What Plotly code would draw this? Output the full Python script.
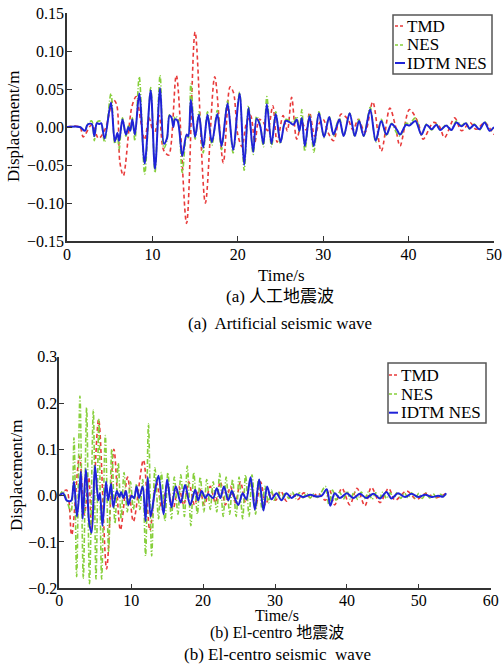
import plotly.graph_objects as go

# ---------------- (a) Artificial seismic wave ----------------
# IDTM NES and NES share extremum times
t_a = [0, 1.5, 2.1, 2.4, 2.9, 3.2, 3.5, 3.8, 4.0, 4.4,
       5.15, 5.6, 5.9, 6.1, 6.5, 6.9, 7.2, 7.4, 7.65, 7.95,
       8.46, 9.1, 9.8, 10.3, 10.9, 11.35, 11.7, 12.0, 12.25, 12.45,
       12.65, 12.95, 13.5, 14.0, 14.2, 14.5, 15.0, 15.45, 15.95, 16.45,
       16.97, 17.6, 18.1, 18.8, 19.45, 20.2, 20.75, 21.25, 21.8, 22.2,
       22.6, 23.0, 23.4, 23.95, 24.45, 25.0, 25.6, 26.1, 26.5, 26.9,
       27.2, 27.5, 27.85, 28.4, 28.9, 29.5, 30.1, 30.7, 31.2, 31.55,
       31.9, 32.4, 33.1, 33.7, 34.2, 34.75, 35.5, 36.15, 36.8, 37.4,
       38.0, 38.6, 39.0, 39.7, 40.1, 40.8, 41.5, 42.1, 42.7, 43.25,
       43.7, 44.4, 45.0, 45.6, 46.2, 46.7, 47.15, 47.7, 48.3, 48.9,
       49.5, 50]
idtm_a = [0, 0, -0.005, 0.003, 0.004, -0.012, 0.005, 0.004, 0.005, -0.015,
          0.032, -0.019, -0.008, -0.018, 0.010, -0.010, 0.000, -0.005, 0.010, -0.010,
          0.044, -0.048, 0.048, -0.055, 0.051, -0.022, -0.015, 0.015, 0.012, 0.000,
          0.010, 0.008, -0.038, -0.010, -0.012, 0.036, -0.013, 0.016, -0.027, 0.016,
          -0.020, 0.017, -0.025, 0.031, -0.030, 0.044, -0.050, 0.025, -0.033, 0.011,
          0.002, -0.022, 0.030, -0.022, 0.017, -0.020, 0.008, 0.006, 0.003, 0.010,
          -0.005, 0.012, -0.025, 0.014, -0.025, 0.018, -0.013, 0.013, -0.010, 0.000,
          0.010, -0.012, 0.018, -0.012, 0.008, -0.012, 0.023, -0.018, 0.008, -0.010,
          0.004, -0.003, -0.010, 0.003, 0.002, 0.008, -0.010, 0.003, -0.003, 0.003,
          -0.004, 0.002, -0.004, 0.006, 0.001, 0.005, -0.002, 0.003, -0.003, 0.006,
          -0.005, 0.000]
nes_a = [0, 0, -0.005, 0.004, 0.008, -0.018, 0.006, 0.008, 0.006, -0.020,
         0.044, -0.022, -0.010, -0.030, 0.012, -0.012, 0.002, -0.006, 0.012, -0.018,
         0.066, -0.062, 0.052, -0.060, 0.068, -0.028, -0.018, 0.016, 0.014, 0.002,
         0.014, 0.012, -0.060, -0.012, -0.014, 0.057, -0.016, 0.020, -0.034, 0.020,
         -0.024, 0.022, -0.030, 0.034, -0.034, 0.046, -0.057, 0.028, -0.036, 0.014,
         0.004, -0.026, 0.040, -0.026, 0.020, -0.022, 0.010, 0.008, 0.006, 0.014,
         -0.006, 0.023, -0.032, 0.016, -0.033, 0.020, -0.014, 0.014, -0.012, 0.002,
         0.012, -0.012, 0.018, -0.013, 0.010, -0.012, 0.026, -0.020, 0.010, -0.012,
         0.005, -0.008, -0.012, 0.005, 0.004, 0.012, -0.010, 0.004, -0.004, 0.004,
         -0.004, 0.003, -0.004, 0.008, 0.002, 0.006, -0.003, 0.004, -0.004, 0.007,
         -0.005, 0.000]
t_tmd_a = [0, 1.5, 1.9, 2.9, 3.7, 4.5, 5.4, 5.8, 6.2, 6.6,
           7.6, 8.1, 8.6, 9.1, 9.6, 10.2, 10.8, 11.3, 11.9, 12.8,
           14.0, 15.0, 16.2, 17.3, 18.3,
           19.1, 19.5, 20.0, 20.5, 21.0, 21.5, 22.0, 22.5, 23.0, 23.5,
           24.1, 24.6, 25.3, 25.8, 26.3, 26.9, 27.5, 28.0, 28.4, 29.0,
           29.5, 30.0, 30.6, 31.2, 32.1, 32.9, 33.5, 34.1, 34.9, 35.8,
           36.8, 37.8, 38.4, 39.0, 40.1, 41.1, 41.7, 42.9, 43.6, 44.2,
           45.4, 46.2, 47.2, 47.9, 48.9, 49.4, 50]
tmd_a = [0, 0, -0.013, 0.003, -0.015, -0.002, 0.036, 0.030, -0.047, -0.064,
         0.027, 0.040, 0.010, -0.017, 0.012, -0.010, 0.015, -0.030, -0.037, 0.068,
         -0.127, 0.125, -0.100, 0.066, -0.047,
         0.053, 0.045, -0.010, -0.026, 0.005, 0.015, -0.020, 0.010, 0.006, -0.005,
         0.028, -0.020, 0.015, -0.005, 0.039, -0.016, 0.006, -0.004, 0.019, -0.012,
         0.004, 0.010, -0.008, -0.018, 0.017, 0.010, -0.004, 0.010, -0.007, 0.033,
         -0.032, 0.025, 0.004, -0.025, 0.023, 0.006, -0.016, 0.006, 0.001, -0.014,
         0.012, -0.005, 0.006, -0.003, 0.006, 0.000, -0.010]

# ---------------- (b) El-centro seismic wave ----------------
t_idtm_b = [0, 0.55, 1.0, 1.5, 1.7, 2.04, 2.45, 2.8, 3.0, 3.25,
            3.7, 4.17, 4.5, 4.96, 5.42, 5.65, 6.0, 6.5, 6.8, 7.2,
            7.5, 8.0, 8.35, 8.6, 8.9, 9.27, 9.6, 10.06, 10.4, 10.75,
            11.1, 11.6, 12.0, 12.3, 12.7, 13.3, 13.8, 14.5, 15.0, 15.6,
            16.2, 16.9, 17.5, 18.2, 18.9, 19.3, 19.8, 20.3, 20.7, 21.4,
            21.9, 22.4, 22.9, 23.5, 24.0, 24.4, 24.9, 25.5, 26.0, 26.6,
            27.2, 27.8, 28.4, 28.9, 29.5, 30.2, 30.9, 31.6, 32.3, 33.0,
            33.9, 34.9, 35.8, 36.5, 37.2, 37.7, 38.3, 39.0, 40.0, 40.9,
            41.8, 42.7, 43.7, 44.6, 45.5, 46.2, 47.1, 48.1, 49.0, 49.9,
            50.9, 51.8, 52.7, 53.4, 53.8]
idtm_b = [0, 0.005, -0.010, -0.012, -0.010, 0.030, -0.045, 0.010, 0.052, -0.050,
          0.057, -0.060, -0.080, 0.065, -0.010, 0.005, -0.065, 0.030, -0.010, 0.025,
          -0.025, 0.010, -0.003, 0.008, -0.005, 0.010, -0.020, 0.000, -0.005, 0.020,
          -0.005, 0.020, -0.055, 0.040, -0.045, 0.010, 0.043, -0.040, 0.035, -0.025,
          0.020, -0.015, 0.023, -0.020, 0.013, -0.010, 0.010, -0.005, 0.003, -0.005,
          0.016, -0.005, 0.020, -0.010, 0.010, -0.005, -0.020, 0.005, -0.008, 0.040,
          -0.030, 0.035, -0.032, 0.020, -0.008, 0.005, -0.010, 0.005, -0.005, 0.003,
          -0.003, 0.002, -0.002, 0.000, 0.014, -0.022, 0.005, -0.005, 0.005, -0.005,
          0.004, -0.005, 0.004, -0.006, 0.008, -0.006, 0.005, -0.003, 0.004, -0.003,
          0.002, -0.003, 0.000, -0.002, 0.005]
t_nes_b = [0, 0.5, 1.0, 1.62, 2.04, 2.41, 2.87, 3.34, 3.8, 4.2,
           4.73, 5.1, 5.5, 5.89, 6.4, 6.86, 7.3, 7.74, 8.2, 8.6,
           9.0, 9.45, 9.9, 10.3, 10.75, 11.2, 11.6, 12.0, 12.4, 12.85,
           13.3, 13.8, 14.2, 14.7, 15.1, 15.6, 16.0, 16.5, 16.9, 17.4,
           17.8, 18.3, 18.7, 19.2, 19.6, 20.1, 20.5, 21.0, 21.4, 21.9,
           22.3, 22.8, 23.2, 23.7, 24.1, 24.6, 25.0, 25.5, 25.9, 26.4,
           26.8, 27.3, 27.7, 28.2, 28.6, 29.1, 29.5, 29.9, 30.4, 30.9,
           31.4, 31.9, 32.4, 32.9, 33.4, 33.9, 34.4, 34.9, 35.4, 35.9,
           36.4, 37.0, 37.5, 38.0, 38.5, 39.0, 39.5, 40.0, 40.5, 41.0,
           41.5, 42.0, 42.5, 43.0, 43.5, 44.0, 44.5, 45.0, 45.5, 46.0,
           46.5, 47.0, 47.5, 48.0, 48.5, 49.0, 49.5, 50.0, 50.5, 51.0,
           51.5, 52.0, 52.5, 53.0, 53.5, 53.8]
nes_b = [0, 0.010, -0.008, -0.035, 0.125, -0.175, 0.215, -0.178, 0.190, -0.190,
         0.185, -0.180, 0.165, -0.180, 0.130, -0.120, 0.100, -0.060, 0.070, -0.050,
         0.050, -0.035, 0.030, -0.030, 0.025, -0.030, 0.035, -0.130, 0.155, -0.130,
         0.060, -0.050, 0.050, -0.055, 0.050, -0.050, 0.040, -0.040, 0.045, -0.045,
         0.064, -0.065, 0.050, -0.040, 0.040, -0.035, 0.035, -0.030, 0.030, -0.035,
         0.048, -0.045, 0.040, -0.040, 0.035, -0.045, 0.040, -0.050, 0.045, -0.045,
         0.045, -0.040, 0.035, -0.030, 0.020, -0.015, 0.012, -0.010, 0.008, -0.008,
         0.006, -0.006, 0.008, -0.006, 0.006, -0.005, 0.005, -0.005, 0.004, -0.004,
         0.006, 0.020, -0.020, 0.012, -0.010, 0.008, -0.008, 0.010, -0.008, 0.008,
         -0.008, 0.008, -0.006, 0.008, -0.008, 0.006, -0.006, 0.008, -0.006, 0.006,
         -0.005, 0.007, -0.006, 0.006, -0.005, 0.006, -0.006, 0.005, -0.006, 0.006,
         -0.005, 0.004, -0.005, 0.003, -0.002, 0.004]
t_tmd_b = [0, 1.0, 1.72, 2.8, 3.5, 4.1, 4.5, 5.47, 6.58, 7.6,
           8.5, 9.5, 10.3, 11.7, 12.6, 13.5, 14.3, 15.0, 15.8, 16.6,
           17.3, 18.0, 18.8, 19.5, 20.2, 21.0, 21.7, 22.4, 23.1, 23.8,
           24.5, 25.2, 25.9, 26.6, 27.3, 28.0, 28.7, 29.4, 30.1, 30.8,
           31.6, 32.4, 33.2, 34.0, 35.0, 36.0, 37.0, 37.6, 38.3, 39.3,
           40.4, 41.4, 42.5, 43.4, 44.6, 45.8, 46.7, 48.3, 49.7, 51.0,
           52.3, 53.8]
tmd_b = [0, 0.012, -0.085, 0.085, -0.040, 0.040, -0.070, 0.165, -0.158, 0.100,
         -0.074, 0.040, -0.056, 0.077, -0.075, 0.030, -0.030, 0.025, -0.030, 0.020,
         -0.020, 0.030, -0.020, 0.015, -0.020, 0.020, -0.015, 0.030, -0.020, 0.020,
         -0.015, 0.030, -0.015, 0.030, -0.025, 0.030, -0.020, 0.010, -0.010, 0.010,
         -0.012, 0.005, -0.008, 0.006, -0.005, 0.005, -0.010, 0.012, -0.020, 0.016,
         -0.020, 0.016, -0.022, 0.018, -0.015, 0.016, -0.010, 0.010, -0.008, 0.005,
         -0.005, 0.005]

x_ticks_a = [0, 10, 20, 30, 40, 50]
y_ticks_a = [-0.15, -0.10, -0.05, 0.00, 0.05, 0.10, 0.15]
x_ticks_b = [0, 10, 20, 30, 40, 50, 60]
y_ticks_b = [-0.2, -0.1, 0.0, 0.1, 0.2, 0.3]

names = ["TMD", "NES", "IDTM NES"]
colors = ["#e83a3a", "#86cf3a", "#1f22d8"]
dashes = ["4px,3px", "5px,2px,1px,2px", "solid"]
widths = [1.6, 1.6, 2.0]

W, H = 503, 666
SERIF = "Liberation Serif"
MIX = "Liberation Serif, Noto Sans CJK SC"

fig = go.Figure()
series_a = [(t_tmd_a, tmd_a), (t_a, nes_a), (t_a, idtm_a)]
series_b = [(t_tmd_b, tmd_b), (t_nes_b, nes_b), (t_idtm_b, idtm_b)]
for i, (tx, vy) in enumerate(series_a):
    fig.add_trace(go.Scatter(x=tx, y=vy, mode="lines", name=names[i], showlegend=False,
                             line=dict(color=colors[i], dash=dashes[i], width=widths[i],
                                       shape="spline", smoothing=0.9),
                             xaxis="x", yaxis="y"))
for i, (tx, vy) in enumerate(series_b):
    fig.add_trace(go.Scatter(x=tx, y=vy, mode="lines", name=names[i], showlegend=False,
                             line=dict(color=colors[i], dash=dashes[i], width=widths[i],
                                       shape="spline", smoothing=0.9),
                             xaxis="x2", yaxis="y2"))

axis_common = dict(showline=True, linecolor="#333333", linewidth=1.5, ticks="inside",
                   ticklen=5, tickcolor="#333333", showgrid=False, zeroline=False,
                   automargin=False,
                   tickfont=dict(family=SERIF, size=16, color="black"), mirror=False)

fig.update_layout(
    width=W, height=H, margin=dict(l=0, r=0, t=0, b=0, autoexpand=False),
    paper_bgcolor="white", plot_bgcolor="white", showlegend=False,
    xaxis=dict(domain=[67 / W, 494 / W], range=[0, 50], tickvals=x_ticks_a,
               anchor="y", ticklabelstandoff=-2, **axis_common),
    yaxis=dict(domain=[1 - 241 / H, 1 - 13 / H], range=[-0.15, 0.15], tickvals=y_ticks_a,
               tickformat=".2f", anchor="x", ticklabelstandoff=-2, **axis_common),
    xaxis2=dict(domain=[59.3 / W, 490.7 / W], range=[0, 60], tickvals=x_ticks_b,
                anchor="y2", ticklabelstandoff=-3, **axis_common),
    yaxis2=dict(domain=[1 - 588.3 / H, 1 - 356.7 / H], range=[-0.2, 0.3], tickvals=y_ticks_b,
                tickformat=".1f", anchor="x2", ticklabelstandoff=-3, **axis_common),
)

def ann(text, xp, yp, size=17, angle=0, family=SERIF, xanchor="center"):
    fig.add_annotation(text=text, x=xp / W, y=1 - yp / H, xref="paper", yref="paper",
                       showarrow=False, textangle=angle, xanchor=xanchor, yanchor="middle",
                       font=dict(family=family, size=size, color="black"))

ann("Displacement/m", 14, 127, angle=-90)
ann("Time/s", 281, 275)
ann("(a) 人工地震波", 280, 296, family=MIX)
ann("(a)  Artificial seismic wave", 280, 323)
ann("Displacement/m", 16, 476, angle=-90)
ann("Time/s", 277, 615, size=16)
ann("(b) El-centro 地震波", 277, 633, size=16, family=MIX)
ann("(b) El-centro seismic  wave", 277, 654)

# custom legends (box, short line samples, labels)
def legend(x0, y0, x1, y1, rows_y, sample_x0, sample_x1, text_x):
    fig.add_shape(type="rect", xref="paper", yref="paper",
                  x0=x0 / W, x1=x1 / W, y0=1 - y0 / H, y1=1 - y1 / H,
                  line=dict(color="#555555", width=1.5), fillcolor="white", layer="above")
    for i, ry in enumerate(rows_y):
        fig.add_shape(type="line", xref="paper", yref="paper",
                      x0=sample_x0 / W, x1=sample_x1 / W, y0=1 - ry / H, y1=1 - ry / H,
                      line=dict(color=colors[i], width=widths[i],
                                dash="3px,2px" if i < 2 else "solid"), layer="above")
        ann(names[i], text_x, ry, xanchor="left")

legend(393, 15, 492, 74, [26, 45, 63], 395, 405, 405)
legend(388, 363, 486, 423, [375, 394, 412.7], 389, 398, 398.5)

fig.write_html("out.html", config={"displayModeBar": False},
               post_script="document.body.style.margin='0';document.body.style.padding='0';")
